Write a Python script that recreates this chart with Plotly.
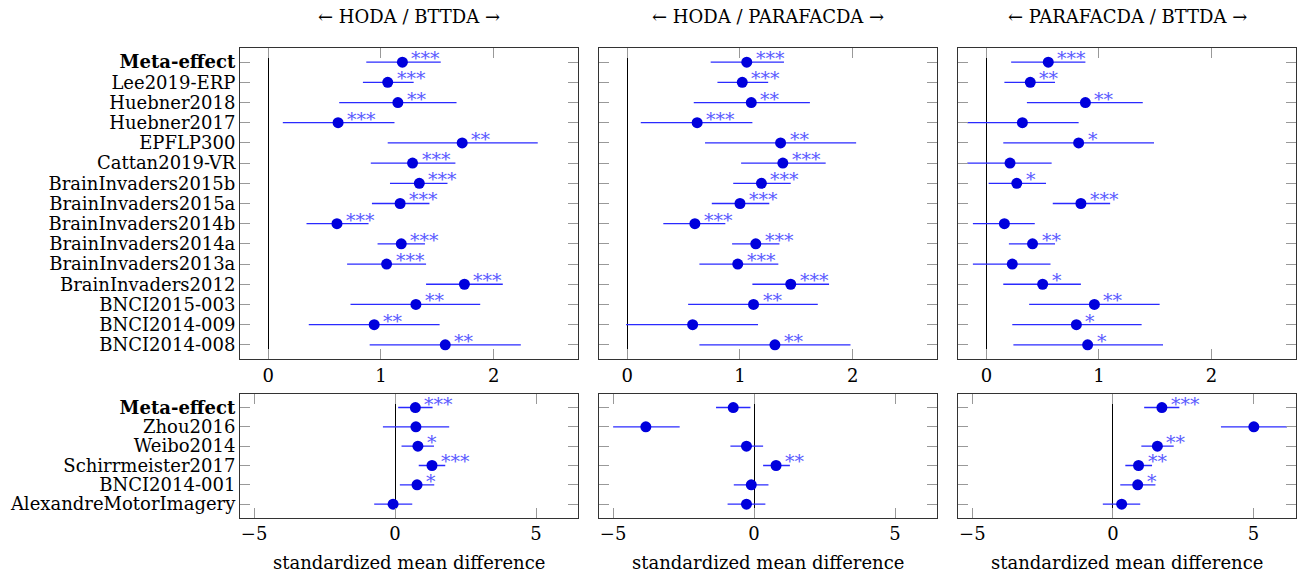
import plotly.graph_objects as go

# ---------------- data ----------------
erp_datasets = ["Meta-effect", "Lee2019-ERP", "Huebner2018", "Huebner2017", "EPFLP300",
                "Cattan2019-VR", "BrainInvaders2015b", "BrainInvaders2015a", "BrainInvaders2014b",
                "BrainInvaders2014a", "BrainInvaders2013a", "BrainInvaders2012", "BNCI2015-003",
                "BNCI2014-009", "BNCI2014-008"]
mi_datasets = ["Meta-effect", "Zhou2016", "Weibo2014", "Schirrmeister2017", "BNCI2014-001",
               "AlexandreMotorImagery"]

column_titles = ["\u2190 HODA / BTTDA \u2192", "\u2190 HODA / PARAFACDA \u2192",
                 "\u2190 PARAFACDA / BTTDA \u2192"]
x_title = "standardized mean difference"
erp_xticks = [0, 1, 2]
mi_xticks = [-5, 0, 5]

# ERP: HODA / BTTDA
erp_hb_smd = [1.19, 1.06, 1.15, 0.62, 1.72, 1.28, 1.34, 1.17, 0.61, 1.18, 1.05, 1.74, 1.31, 0.94, 1.57]
erp_hb_lo = [0.87, 0.84, 0.63, 0.13, 1.06, 0.91, 1.08, 0.92, 0.34, 0.97, 0.70, 1.40, 0.73, 0.36, 0.90]
erp_hb_hi = [1.53, 1.29, 1.67, 1.12, 2.39, 1.66, 1.59, 1.43, 0.89, 1.39, 1.40, 2.08, 1.88, 1.52, 2.24]
erp_hb_sig = ["***", "***", "**", "***", "**", "***", "***", "***", "***", "***", "***", "***",
              "**", "**", "**"]

# ERP: HODA / PARAFACDA
erp_hp_smd = [1.06, 1.02, 1.10, 0.62, 1.36, 1.38, 1.19, 1.00, 0.60, 1.14, 0.98, 1.45, 1.12, 0.58, 1.31]
erp_hp_lo = [0.74, 0.80, 0.59, 0.12, 0.69, 1.01, 0.94, 0.75, 0.32, 0.93, 0.64, 1.11, 0.54, -0.01, 0.64]
erp_hp_hi = [1.39, 1.25, 1.62, 1.11, 2.03, 1.76, 1.45, 1.26, 0.87, 1.35, 1.34, 1.79, 1.69, 1.16, 1.98]
erp_hp_sig = ["***", "***", "**", "***", "**", "***", "***", "***", "***", "***", "***", "***",
              "**", "", "**"]

# ERP: PARAFACDA / BTTDA
erp_pb_smd = [0.55, 0.39, 0.88, 0.32, 0.82, 0.21, 0.27, 0.84, 0.16, 0.41, 0.23, 0.50, 0.96, 0.80, 0.90]
erp_pb_lo = [0.22, 0.16, 0.36, -0.17, 0.15, -0.17, 0.02, 0.59, -0.12, 0.20, -0.12, 0.15, 0.38, 0.23, 0.24]
erp_pb_hi = [0.88, 0.61, 1.39, 0.82, 1.49, 0.58, 0.53, 1.10, 0.43, 0.61, 0.57, 0.84, 1.54, 1.38, 1.57]
erp_pb_sig = ["***", "**", "**", "", "*", "", "*", "***", "", "**", "", "*", "**", "*", "*"]

# MI: HODA / BTTDA
mi_hb_smd = [0.72, 0.74, 0.81, 1.31, 0.78, -0.07]
mi_hb_lo = [0.11, -0.43, 0.23, 0.84, 0.17, -0.74]
mi_hb_hi = [1.33, 1.92, 1.38, 1.78, 1.39, 0.61]
mi_hb_sig = ["***", "", "*", "***", "*", ""]

# MI: HODA / PARAFACDA
mi_hp_smd = [-0.74, -3.84, -0.27, 0.78, -0.10, -0.27]
mi_hp_lo = [-1.35, -5.00, -0.84, 0.32, -0.72, -0.94]
mi_hp_hi = [-0.13, -2.64, 0.32, 1.27, 0.51, 0.40]
mi_hp_sig = ["", "", "", "**", "", ""]

# MI: PARAFACDA / BTTDA
mi_pb_smd = [1.74, 5.01, 1.58, 0.91, 0.88, 0.31]
mi_pb_lo = [1.11, 3.84, 1.01, 0.44, 0.26, -0.36]
mi_pb_hi = [2.36, 6.19, 2.16, 1.39, 1.51, 0.97]
mi_pb_sig = ["***", "", "**", "**", "*", ""]

# ---------------- style ----------------
FONT = "DejaVu Serif"
FS = 18
STAR_FS = 19
DOT = "#0000dd"
LINE = "#2a2aff"
STAR = "#5a5aff"

x_domains = [[0.1843, 0.4442], [0.4601, 0.7199], [0.7360, 0.9952]]
y_domains = [[0.3757, 0.9165], [0.0997, 0.3148]]

panels = [
    (0, 0, erp_datasets, erp_hb_smd, erp_hb_lo, erp_hb_hi, erp_hb_sig),
    (0, 1, erp_datasets, erp_hp_smd, erp_hp_lo, erp_hp_hi, erp_hp_sig),
    (0, 2, erp_datasets, erp_pb_smd, erp_pb_lo, erp_pb_hi, erp_pb_sig),
    (1, 0, mi_datasets, mi_hb_smd, mi_hb_lo, mi_hb_hi, mi_hb_sig),
    (1, 1, mi_datasets, mi_hp_smd, mi_hp_lo, mi_hp_hi, mi_hp_sig),
    (1, 2, mi_datasets, mi_pb_smd, mi_pb_lo, mi_pb_hi, mi_pb_sig),
]

fig = go.Figure()
layout = {}
for k, (r, c, labels, smd, lo, hi, sig) in enumerate(panels):
    sfx = "" if k == 0 else str(k + 1)
    rows = list(range(len(labels)))
    fig.add_trace(go.Scatter(
        x=smd, y=rows, mode="markers",
        marker=dict(size=11, color=DOT, line=dict(width=0)),
        error_x=dict(type="data", symmetric=False,
                     array=[h - s for h, s in zip(hi, smd)],
                     arrayminus=[s - l for s, l in zip(smd, lo)],
                     color=LINE, thickness=1.3, width=0),
        xaxis="x" + sfx, yaxis="y" + sfx, showlegend=False, hoverinfo="skip",
        cliponaxis=True,
    ))
    for i, s in enumerate(sig):
        if s:
            fig.add_annotation(x=smd[i], y=i, xref="x" + sfx, yref="y" + sfx, text=s,
                               showarrow=False, xanchor="left", yanchor="middle",
                               xshift=7, yshift=4,
                               font=dict(family=FONT, size=STAR_FS, color=STAR))
    if r == 0:
        xr, xt = [-0.25, 2.75], erp_xticks
    else:
        xr, xt = [-5.5, 6.5], mi_xticks
    layout["xaxis" + sfx] = dict(
        domain=x_domains[c], anchor="y" + sfx, range=xr, tickvals=xt,
        ticktext=[("\u2212" + str(abs(v))) if v < 0 else str(v) for v in xt],
        showgrid=False, zeroline=True, zerolinecolor="black", zerolinewidth=1,
        showline=True, linecolor="#333333", linewidth=1, mirror="allticks",
        ticks="inside", ticklen=10, tickcolor="#999999", tickwidth=1,
        tickfont=dict(family=FONT, size=FS, color="black"),
    )
    n = len(labels)
    layout["yaxis" + sfx] = dict(
        domain=y_domains[r], anchor="x" + sfx, range=[n - 1 + 0.7, -0.7],
        tickvals=rows,
        ticktext=[("<b>" + lab + "</b>") if lab == "Meta-effect" else lab for lab in labels],
        showticklabels=(c == 0),
        showgrid=False, zeroline=False,
        showline=True, linecolor="#333333", linewidth=1, mirror="allticks",
        ticks="inside", ticklen=10, tickcolor="#999999", tickwidth=1,
        tickfont=dict(family=FONT, size=FS, color="black"),
    )

for c in range(3):
    xc = (x_domains[c][0] + x_domains[c][1]) / 2
    fig.add_annotation(x=xc, y=1 - 16 / 575, xref="paper", yref="paper", text=column_titles[c],
                       showarrow=False, xanchor="center", yanchor="middle",
                       font=dict(family=FONT, size=FS, color="black"))
    fig.add_annotation(x=xc, y=1 - 562 / 575, xref="paper", yref="paper", text=x_title,
                       showarrow=False, xanchor="center", yanchor="middle",
                       font=dict(family=FONT, size=FS, color="black"))

fig.update_layout(
    width=1302, height=575,
    margin=dict(l=0, r=0, t=0, b=0, autoexpand=False),
    paper_bgcolor="white", plot_bgcolor="white",
    font=dict(family=FONT, size=FS, color="black"),
    **layout,
)
fig.write_html("out.html", config={"displayModeBar": False},
               post_script="document.body.style.margin='0';document.body.style.overflow='hidden';")
